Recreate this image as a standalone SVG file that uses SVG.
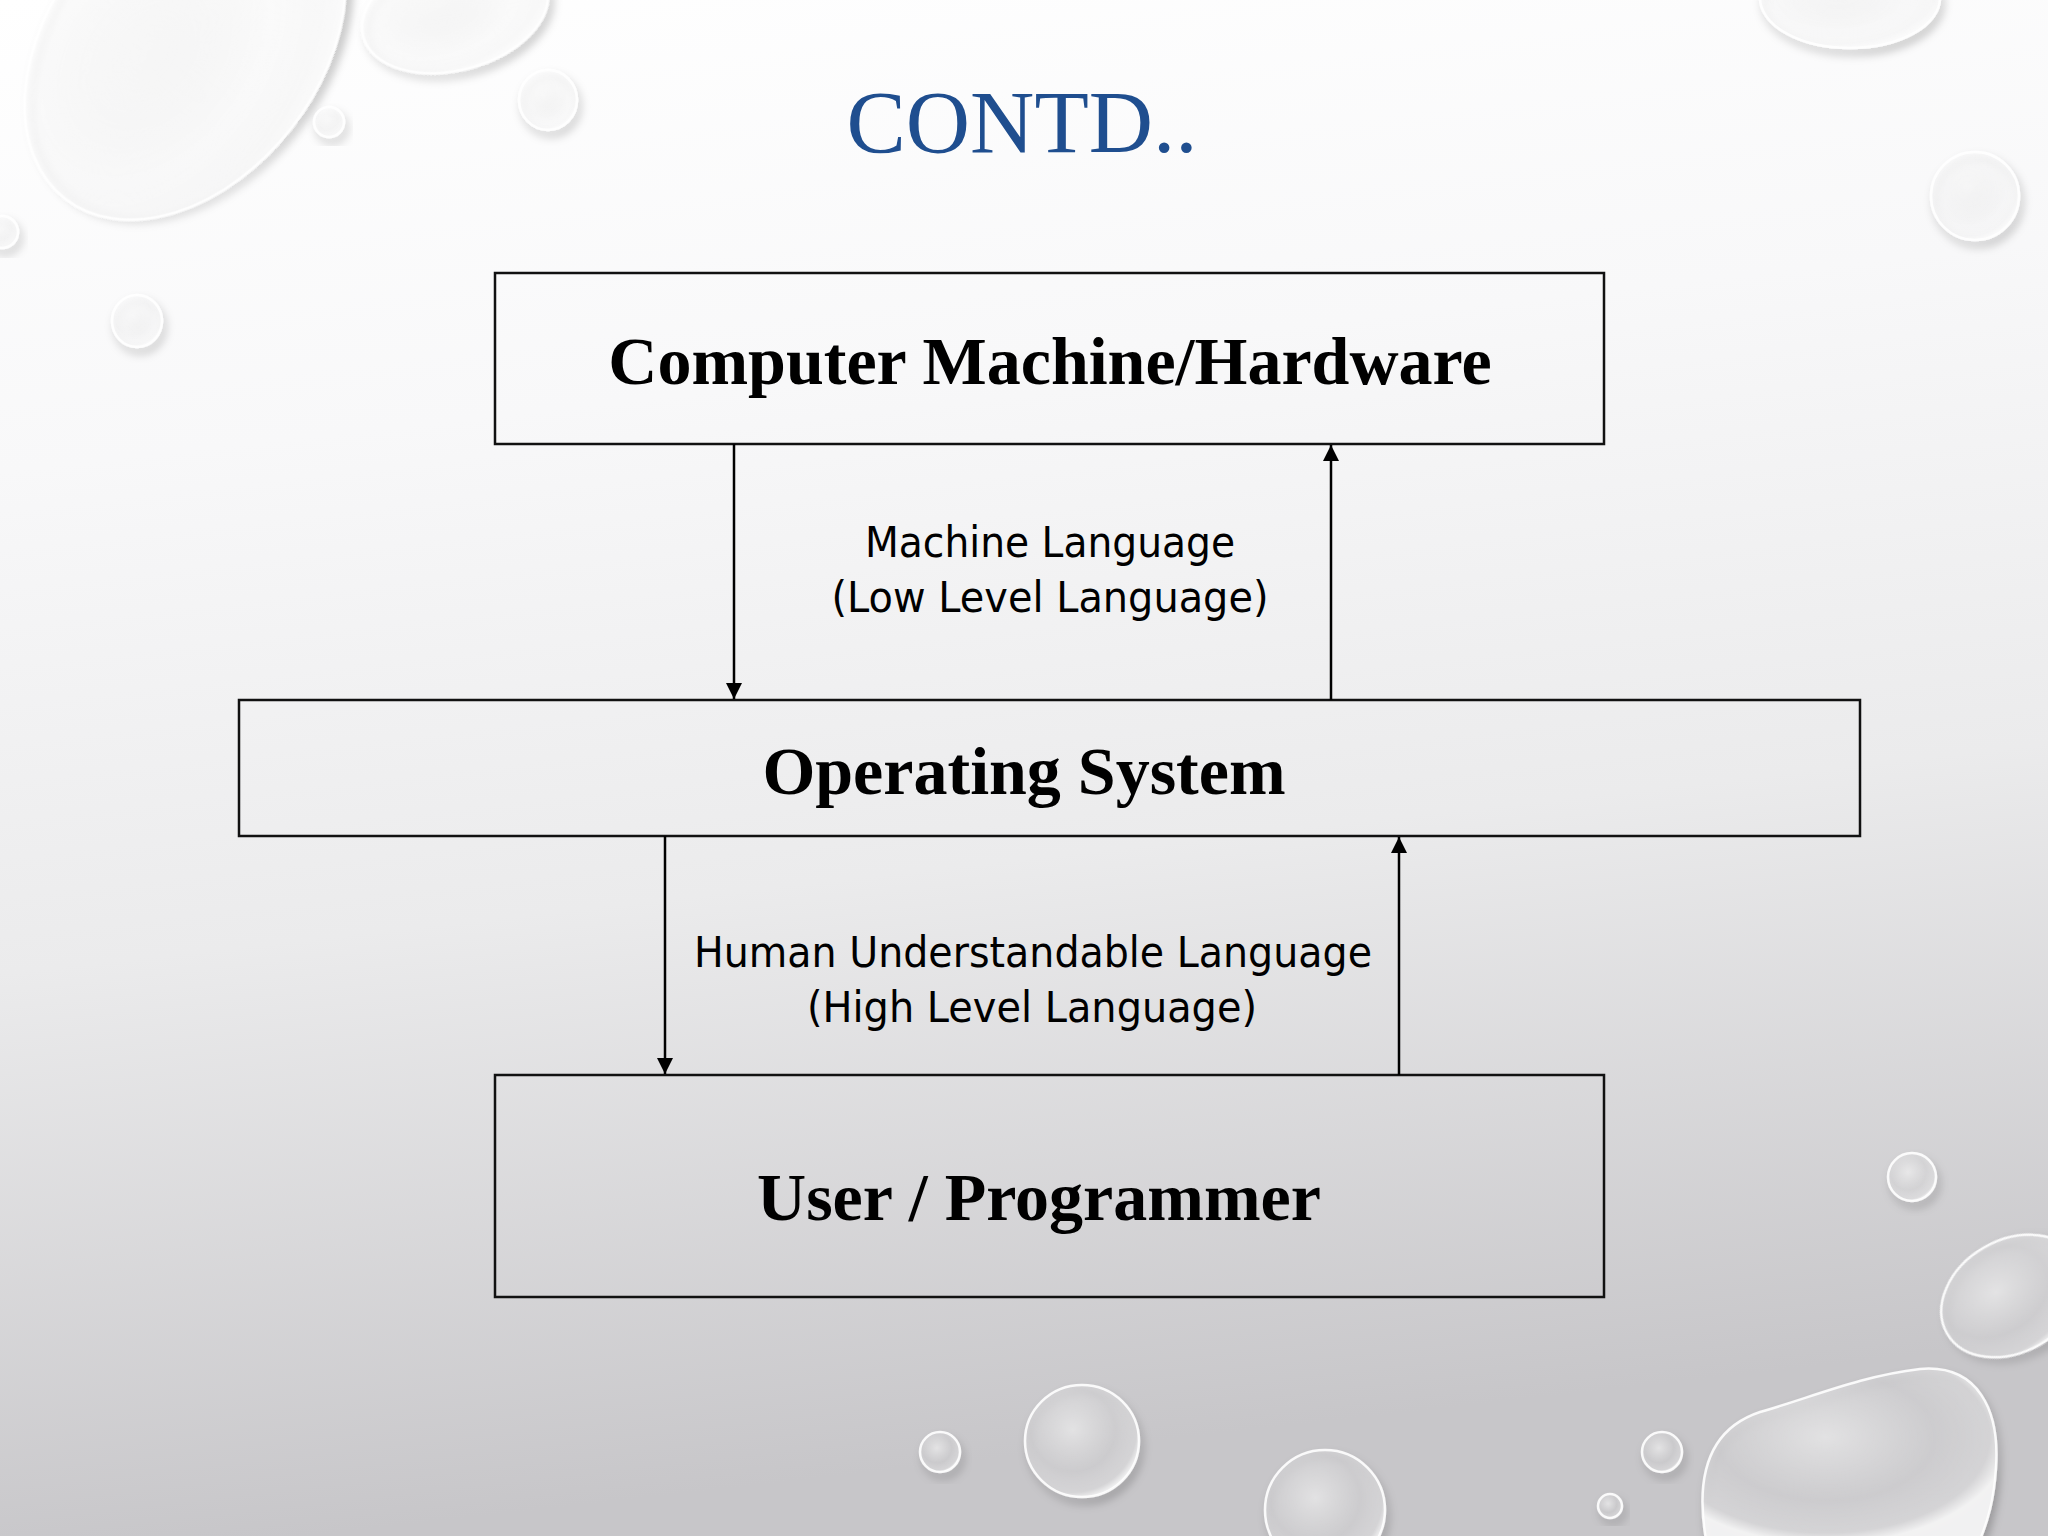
<svg xmlns="http://www.w3.org/2000/svg" width="2048" height="1536" viewBox="0 0 2048 1536">
<defs>
<linearGradient id="bg" x1="0" y1="0" x2="0.15" y2="1">
<stop offset="0" stop-color="#ffffff"/>
<stop offset="0.3" stop-color="#f8f8f9"/>
<stop offset="0.62" stop-color="#ebebec"/>
<stop offset="1" stop-color="#c7c6c9"/>
</linearGradient>
<radialGradient id="dropGrad" cx="0.42" cy="0.4" r="0.62">
<stop offset="0" stop-color="#ffffff" stop-opacity="0.55"/>
<stop offset="0.6" stop-color="#ffffff" stop-opacity="0.15"/>
<stop offset="0.9" stop-color="#ffffff" stop-opacity="0.3"/>
<stop offset="1" stop-color="#ffffff" stop-opacity="0.8"/>
</radialGradient>
<filter id="dropShadow" x="-30%" y="-30%" width="160%" height="160%">
<feDropShadow dx="3" dy="6" stdDeviation="4" flood-color="#000000" flood-opacity="0.28"/>
</filter>
<marker id="arrow" markerUnits="userSpaceOnUse" markerWidth="16" markerHeight="16" refX="16" refY="8" orient="auto">
<path d="M0,0 L16,8 L0,16 Z" fill="#000"/>
</marker>
<style>
.drop{fill:url(#dropGrad);stroke:#ffffff;stroke-width:2.5;stroke-opacity:0.9;filter:url(#dropShadow)}
.box{fill:none;stroke:#111;stroke-width:2.5}
.node{font-family:"Liberation Serif","Times New Roman",serif;font-weight:bold;font-size:68px;fill:#000;text-anchor:middle}
.lbl{font-family:"DejaVu Sans","Liberation Sans",sans-serif;font-size:42px;fill:#000;text-anchor:middle}
.conn{stroke:#000;stroke-width:2.5;fill:none;marker-end:url(#arrow)}
.title{font-family:"Liberation Serif","Times New Roman",serif;font-size:89px;fill:#1f4e8f;text-anchor:middle}
</style>
</defs>
<rect x="0" y="0" width="2048" height="1536" fill="url(#bg)"/>
<g id="background-drops">
<ellipse class="drop" cx="185" cy="45" rx="195" ry="135" transform="rotate(-52 185 45)"/>
<ellipse class="drop" cx="455" cy="12" rx="95" ry="58" transform="rotate(-15 455 12)"/>
<ellipse class="drop" cx="329" cy="122" rx="15" ry="15"/>
<ellipse class="drop" cx="548" cy="100" rx="29" ry="30"/>
<ellipse class="drop" cx="2" cy="232" rx="16" ry="16"/>
<ellipse class="drop" cx="137" cy="321" rx="25" ry="26"/>
<ellipse class="drop" cx="1850" cy="-2" rx="90" ry="50"/>
<ellipse class="drop" cx="1975" cy="196" rx="44" ry="44"/>
<ellipse class="drop" cx="1912" cy="1177" rx="24" ry="24"/>
<ellipse class="drop" cx="2012" cy="1296" rx="75" ry="56" transform="rotate(-30 2012 1296)"/>
<path class="drop" d="M1706,1540 C1694,1470 1712,1428 1760,1412 C1810,1398 1860,1376 1920,1369 C1978,1364 2000,1410 1996,1468 C1994,1500 1988,1520 1980,1540 Z"/>
<ellipse class="drop" cx="1662" cy="1452" rx="20" ry="20"/>
<ellipse class="drop" cx="1610" cy="1506" rx="12" ry="12"/>
<ellipse class="drop" cx="940" cy="1452" rx="20" ry="20"/>
<ellipse class="drop" cx="1082" cy="1441" rx="57" ry="56"/>
<ellipse class="drop" cx="1325" cy="1510" rx="60" ry="60"/>
</g>
<text class="title" x="1022" y="152">CONTD..</text>
<g id="node-hardware">
<rect class="box" x="495" y="273" width="1109" height="171"/>
<text class="node" x="1050" y="384">Computer Machine/Hardware</text>
</g>
<g id="node-os">
<rect class="box" x="239" y="700" width="1621" height="136"/>
<text class="node" x="1024" y="794">Operating System</text>
</g>
<g id="node-user">
<rect class="box" x="495" y="1075" width="1109" height="222"/>
<text class="node" x="1039" y="1220">User / Programmer</text>
</g>
<g id="connectors">
<line class="conn" x1="734" y1="444" x2="734" y2="699"/>
<line class="conn" x1="1331" y1="700" x2="1331" y2="445"/>
<line class="conn" x1="665" y1="836" x2="665" y2="1074"/>
<line class="conn" x1="1399" y1="1075" x2="1399" y2="837"/>
</g>
<g id="labels">
<text class="lbl" x="1050" y="557" textLength="370" lengthAdjust="spacingAndGlyphs">Machine Language</text>
<text class="lbl" x="1050" y="612" textLength="437" lengthAdjust="spacingAndGlyphs">(Low Level Language)</text>
<text class="lbl" x="1033" y="967" textLength="678" lengthAdjust="spacingAndGlyphs">Human Understandable Language</text>
<text class="lbl" x="1032" y="1022" textLength="450" lengthAdjust="spacingAndGlyphs">(High Level Language)</text>
</g>
</svg>
